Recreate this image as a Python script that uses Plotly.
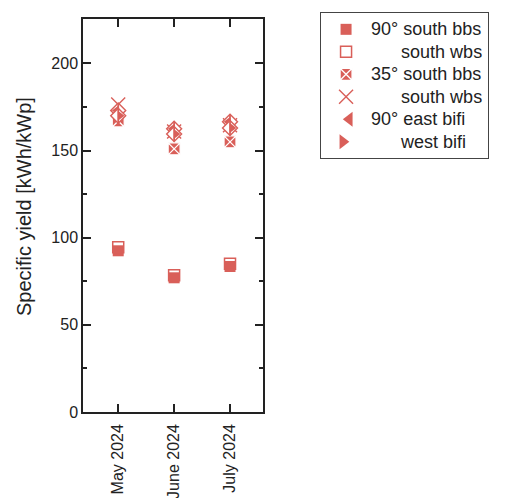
import plotly.graph_objects as go

months = ["May 2024", "June 2024", "July 2024"]
x_pos = [0, 1, 2]

s90_bbs = [92.5, 77.0, 83.5]     # 90° south bbs
s90_wbs = [94.5, 78.5, 85.0]     # 90° south wbs
s35_bbs = [167.0, 151.0, 155.0]  # 35° south bbs
s35_wbs = [176.5, 161.0, 164.5]  # 35° south wbs
east_bifi = [173.0, 162.5, 166.5]  # 90° east bifi
west_bifi = [170.0, 159.5, 163.0]  # 90° west bifi

C = "#d95f59"
FONT = "Liberation Sans, Arial, Helvetica, sans-serif"
PAD = "\u2007\u2007\u00a0\u00a0"


def nm(t):
    return '<span style="font-size:18px">' + t + '</span>'


fig = go.Figure()
fig.add_trace(go.Scatter(x=x_pos, y=s90_bbs, mode="markers", name=nm("90° south bbs"),
                         marker=dict(symbol="square", size=11, color=C, line=dict(width=0))))
fig.add_trace(go.Scatter(x=x_pos, y=s90_wbs, mode="markers", name=nm(PAD + "south wbs"),
                         marker=dict(symbol="square-open", size=11, color=C, line=dict(width=1.5, color=C))))
fig.add_trace(go.Scatter(x=x_pos, y=s35_bbs, mode="markers", name=nm("35° south bbs"),
                         marker=dict(symbol="square-x", size=12, color=C, line=dict(width=1.3, color="white"))))
fig.add_trace(go.Scatter(x=x_pos, y=s35_wbs, mode="markers", name=nm(PAD + "south wbs"),
                         marker=dict(symbol="x-thin-open", size=14, color=C, line=dict(width=1.4, color=C))))

# half-filled diamonds: open diamond outline + a filled half wedge
for vals, label, ang in [(east_bifi, "90° east bifi", 90), (west_bifi, PAD + "west bifi", -90)]:
    fig.add_trace(go.Scatter(x=x_pos, y=vals, mode="markers", showlegend=False,
                             marker=dict(symbol="diamond", size=11.5, color="white",
                                         line=dict(width=1.4, color=C))))
    fig.add_trace(go.Scatter(x=x_pos, y=vals, mode="markers", showlegend=False, hoverinfo="skip",
                             marker=dict(symbol="triangle-down", size=8.4, angle=ang, standoff=2.1,
                                         color=C, line=dict(width=0))))
    fig.add_trace(go.Scatter(x=x_pos, y=vals, mode="markers", showlegend=False, hoverinfo="skip",
                             marker=dict(symbol="line-ns", size=10.5, color=C,
                                         line=dict(width=1.8, color=C))))
    # legend entry
    fig.add_trace(go.Scatter(x=[None], y=[None], mode="markers", name=nm(label),
                             marker=dict(symbol="triangle-down", size=13, angle=ang, standoff=3.25,
                                         color=C, line=dict(width=0))))

axis_common = dict(showline=True, linecolor="#222", linewidth=1.5, mirror="ticks",
                   ticks="inside", tickcolor="#222", tickwidth=1.5, ticklen=8,
                   showgrid=False, zeroline=False, automargin=False,
                   tickfont=dict(family=FONT, size=16, color="#222"))

fig.update_layout(
    width=505, height=498,
    margin=dict(l=83, r=242, t=15, b=86),
    paper_bgcolor="white", plot_bgcolor="white",
    font=dict(family=FONT, color="#222"),
    xaxis=dict(range=[-0.63, 2.59], tickvals=x_pos, ticktext=months, tickangle=-90,
               ticklabelstandoff=4, **axis_common),
    yaxis=dict(range=[0, 225.5], dtick=50,
               minor=dict(ticks="inside", dtick=25, ticklen=4, tickwidth=1.5, tickcolor="#222"),
               **axis_common),
    annotations=[dict(text="Specific yield [kWh/kWp]", textangle=-90, showarrow=False,
                      xref="paper", yref="paper", x=-0.328, y=0.524,
                      xanchor="center", yanchor="middle",
                      font=dict(family=FONT, size=20, color="#222"))],
    legend=dict(x=1.317, y=1.0176, xanchor="left", yanchor="top",
                bordercolor="#444", borderwidth=1, bgcolor="white",
                font=dict(family=FONT, size=15, color="#222"), itemwidth=40,
                tracegroupgap=0),
    showlegend=True,
)
fig.write_html("out.html")
